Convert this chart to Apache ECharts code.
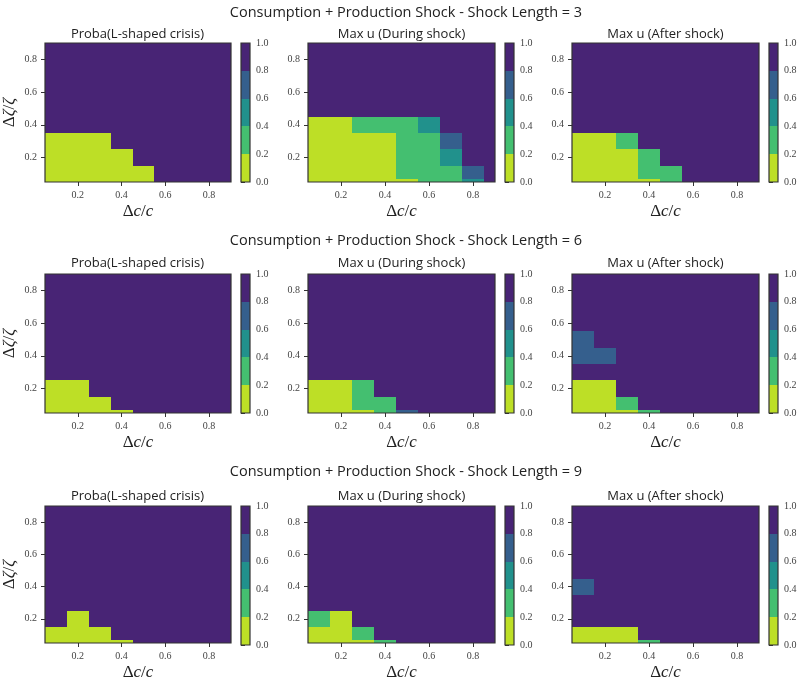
<!DOCTYPE html>
<html>
<head>
<meta charset="utf-8">
<script src="https://cdn.jsdelivr.net/npm/echarts@6/dist/echarts.min.js"></script>
<style>
html,body{margin:0;padding:0;background:#fff;}
#chart{width:800px;height:682px;}
</style>
</head>
<body>
<div id="chart"></div>
<script>
// ---------------- DATA ----------------
const suptitles = [
  'Consumption + Production Shock - Shock Length = 3',
  'Consumption + Production Shock - Shock Length = 6',
  'Consumption + Production Shock - Shock Length = 9'
];
const panelTitles = ['Proba(L-shaped crisis)', 'Max u (During shock)', 'Max u (After shock)'];

const xTicks = [0.2, 0.4, 0.6, 0.8];
const yTicks = [0.2, 0.4, 0.6, 0.8];
const cbarTicks = [0, 0.2, 0.4, 0.6, 0.8, 1.0];

// contour levels and their band colours (viridis_r)
const levels = [0, 0.2, 0.4, 0.6, 0.8, 1.0];
const bandColors = ['#bddf26', '#44bf70', '#21918c', '#355f8d', '#482475'];

// cell edges (data units): x columns, y rows (row 0 is the thin bottom strip)
const xEdges = [0.05, 0.15, 0.25, 0.35, 0.45, 0.55, 0.65, 0.75, 0.85, 0.9];
const yEdges = [0.05, 0.07, 0.15, 0.25, 0.35, 0.45, 0.55, 0.65, 0.75, 0.85, 0.9];

// values, rows listed bottom -> top (row 0 = strip 0.05-0.07)
const len3_proba = [
  [0,0,0,0,0,1,1,1,1],
  [0,0,0,0,0,1,1,1,1],
  [0,0,0,0,1,1,1,1,1],
  [0,0,0,1,1,1,1,1,1],
  [1,1,1,1,1,1,1,1,1],
  [1,1,1,1,1,1,1,1,1],
  [1,1,1,1,1,1,1,1,1],
  [1,1,1,1,1,1,1,1,1],
  [1,1,1,1,1,1,1,1,1],
  [1,1,1,1,1,1,1,1,1]
];
const len3_during = [
  [0,0,0,0,0,0.3,0.3,0.5,1],
  [0,0,0,0,0.3,0.3,0.3,0.7,1],
  [0,0,0,0,0.3,0.3,0.5,1,1],
  [0,0,0,0,0.3,0.3,0.7,1,1],
  [0,0,0.3,0.3,0.3,0.5,1,1,1],
  [1,1,1,1,1,1,1,1,1],
  [1,1,1,1,1,1,1,1,1],
  [1,1,1,1,1,1,1,1,1],
  [1,1,1,1,1,1,1,1,1],
  [1,1,1,1,1,1,1,1,1]
];
const len3_after = [
  [0,0,0,0,0.3,1,1,1,1],
  [0,0,0,0.3,0.3,1,1,1,1],
  [0,0,0,0.3,1,1,1,1,1],
  [0,0,0.3,1,1,1,1,1,1],
  [1,1,1,1,1,1,1,1,1],
  [1,1,1,1,1,1,1,1,1],
  [1,1,1,1,1,1,1,1,1],
  [1,1,1,1,1,1,1,1,1],
  [1,1,1,1,1,1,1,1,1],
  [1,1,1,1,1,1,1,1,1]
];
const len6_proba = [
  [0,0,0,0,1,1,1,1,1],
  [0,0,0,1,1,1,1,1,1],
  [0,0,1,1,1,1,1,1,1],
  [1,1,1,1,1,1,1,1,1],
  [1,1,1,1,1,1,1,1,1],
  [1,1,1,1,1,1,1,1,1],
  [1,1,1,1,1,1,1,1,1],
  [1,1,1,1,1,1,1,1,1],
  [1,1,1,1,1,1,1,1,1],
  [1,1,1,1,1,1,1,1,1]
];
const len6_during = [
  [0,0,0,0.3,0.7,1,1,1,1],
  [0,0,0.3,0.3,1,1,1,1,1],
  [0,0,0.3,1,1,1,1,1,1],
  [1,1,1,1,1,1,1,1,1],
  [1,1,1,1,1,1,1,1,1],
  [1,1,1,1,1,1,1,1,1],
  [1,1,1,1,1,1,1,1,1],
  [1,1,1,1,1,1,1,1,1],
  [1,1,1,1,1,1,1,1,1],
  [1,1,1,1,1,1,1,1,1]
];
const len6_after = [
  [0,0,0,0.3,1,1,1,1,1],
  [0,0,0.3,1,1,1,1,1,1],
  [0,0,1,1,1,1,1,1,1],
  [1,1,1,1,1,1,1,1,1],
  [0.7,0.7,1,1,1,1,1,1,1],
  [0.7,1,1,1,1,1,1,1,1],
  [1,1,1,1,1,1,1,1,1],
  [1,1,1,1,1,1,1,1,1],
  [1,1,1,1,1,1,1,1,1],
  [1,1,1,1,1,1,1,1,1]
];
const len9_proba = [
  [0,0,0,0,1,1,1,1,1],
  [0,0,0,1,1,1,1,1,1],
  [1,0,1,1,1,1,1,1,1],
  [1,1,1,1,1,1,1,1,1],
  [1,1,1,1,1,1,1,1,1],
  [1,1,1,1,1,1,1,1,1],
  [1,1,1,1,1,1,1,1,1],
  [1,1,1,1,1,1,1,1,1],
  [1,1,1,1,1,1,1,1,1],
  [1,1,1,1,1,1,1,1,1]
];
const len9_during = [
  [0,0,0,0.3,1,1,1,1,1],
  [0,0,0.3,1,1,1,1,1,1],
  [0.3,0,1,1,1,1,1,1,1],
  [1,1,1,1,1,1,1,1,1],
  [1,1,1,1,1,1,1,1,1],
  [1,1,1,1,1,1,1,1,1],
  [1,1,1,1,1,1,1,1,1],
  [1,1,1,1,1,1,1,1,1],
  [1,1,1,1,1,1,1,1,1],
  [1,1,1,1,1,1,1,1,1]
];
const len9_after = [
  [0,0,0,0.3,1,1,1,1,1],
  [0,0,0,1,1,1,1,1,1],
  [1,1,1,1,1,1,1,1,1],
  [1,1,1,1,1,1,1,1,1],
  [0.7,1,1,1,1,1,1,1,1],
  [1,1,1,1,1,1,1,1,1],
  [1,1,1,1,1,1,1,1,1],
  [1,1,1,1,1,1,1,1,1],
  [1,1,1,1,1,1,1,1,1],
  [1,1,1,1,1,1,1,1,1]
];
const panels = [
  [len3_proba, len3_during, len3_after],
  [len6_proba, len6_during, len6_after],
  [len9_proba, len9_during, len9_after]
];

// ---------------- LAYOUT / STYLE ----------------
const plotLeft = [44, 308, 572];
const plotTop = [43, 274, 506];
const plotW = 187, plotH = 139;
const cbGap = 197, cbW = 9;
const suptitleTop = [5, 233, 464];
const titleTop = [28, 257, 490];
const titleCenter = [137.5, 401.5, 665.5];
const spine = '#333333';
const serif = 'Liberation Serif';
const sans = 'Open Sans';

function colorFor(v) {
  for (let i = 0; i < bandColors.length; i++) {
    if (v >= levels[i] && (v < levels[i + 1] || i === bandColors.length - 1)) return bandColors[i];
  }
  return bandColors[bandColors.length - 1];
}
const fmt1 = v => Number(v).toFixed(1);

function rectFrom(api, a, b, col) {
  const x0 = Math.round(a[0]), x1 = Math.round(b[0]);
  const y0 = Math.round(a[1]), y1 = Math.round(b[1]);
  return {type: 'rect', shape: {x: x0, y: y1, width: x1 - x0, height: y0 - y1},
    style: {fill: col, lineWidth: 0}};
}

const grids = [], xAxes = [], yAxes = [], series = [], titles = [];

suptitles.forEach((t, r) => {
  titles.push({text: t, left: 406, top: suptitleTop[r], textAlign: 'center', padding: 0,
    textStyle: {fontFamily: sans, fontSize: 14.5, fontWeight: 'normal', color: '#222'}});
});

for (let r = 0; r < 3; r++) {
  for (let c = 0; c < 3; c++) {
    const gi = grids.length;
    titles.push({text: panelTitles[c], left: titleCenter[c], top: titleTop[r], textAlign: 'center', padding: 0,
      textStyle: {fontFamily: sans, fontSize: 13, fontWeight: 'normal', color: '#222'}});
    grids.push({left: plotLeft[c], top: plotTop[r], width: plotW, height: plotH,
      show: true, z: 10, backgroundColor: 'transparent', borderColor: spine, borderWidth: 1.2});
    xAxes.push({type: 'value', gridIndex: gi, min: 0.05, max: 0.9,
      axisLine: {show: false},
      axisTick: {show: true, length: 4, customValues: xTicks, lineStyle: {color: spine, width: 1}},
      axisLabel: {customValues: xTicks, formatter: fmt1, fontFamily: serif, fontSize: 10, color: '#444', margin: 8},
      splitLine: {show: false},
      name: '{d|Δ}{i|c}{d|/}{i|c}', nameLocation: 'middle', nameGap: 21,
      nameTextStyle: {rich: {
        d: {fontFamily: serif, fontSize: 17, color: '#222'},
        i: {fontFamily: serif, fontStyle: 'italic', fontSize: 17, color: '#222'}}}
    });
    const ya = {type: 'value', gridIndex: gi, min: 0.05, max: 0.9,
      axisLine: {show: false},
      axisTick: {show: true, length: 4, customValues: yTicks, lineStyle: {color: spine, width: 1}},
      axisLabel: {customValues: yTicks, formatter: fmt1, fontFamily: serif, fontSize: 10, color: '#444', margin: 8},
      splitLine: {show: false}};
    if (c === 0) {
      ya.name = '{d|Δ}{i|ζ}{d|/}{i|ζ}';
      ya.nameLocation = 'middle';
      ya.nameGap = 27;
      ya.nameTextStyle = {rich: {
        d: {fontFamily: serif, fontSize: 17, color: '#222'},
        i: {fontFamily: serif, fontStyle: 'italic', fontSize: 17, color: '#222'}}};
    }
    yAxes.push(ya);

    const grid = panels[r][c];
    const data = [];
    for (let yi = 0; yi < grid.length; yi++) {
      for (let xi = 0; xi < grid[yi].length; xi++) {
        data.push([xEdges[xi], xEdges[xi + 1], yEdges[yi], yEdges[yi + 1], grid[yi][xi]]);
      }
    }
    series.push({type: 'custom', xAxisIndex: gi, yAxisIndex: gi, clip: true, silent: true,
      encode: {x: [0, 1], y: [2, 3]}, data: data,
      renderItem: function (params, api) {
        const p0 = api.coord([api.value(0), api.value(2)]);
        const p1 = api.coord([api.value(1), api.value(3)]);
        return rectFrom(api, p0, p1, colorFor(api.value(4)));
      }});
  }
}

// colorbars
for (let r = 0; r < 3; r++) {
  for (let c = 0; c < 3; c++) {
    const gi = grids.length;
    grids.push({left: plotLeft[c] + cbGap, top: plotTop[r], width: cbW, height: plotH,
      show: true, z: 10, backgroundColor: 'transparent', borderColor: spine, borderWidth: 1.2});
    xAxes.push({type: 'value', gridIndex: gi, min: 0, max: 1, show: false});
    yAxes.push({type: 'value', gridIndex: gi, min: 0, max: 1, position: 'right',
      axisLine: {show: false},
      axisTick: {show: true, length: 4, customValues: cbarTicks, lineStyle: {color: spine, width: 1}},
      axisLabel: {customValues: cbarTicks, formatter: fmt1, fontFamily: serif, fontSize: 10, color: '#444', margin: 6},
      splitLine: {show: false}});
    const bands = [];
    for (let i = 0; i < bandColors.length; i++) bands.push([levels[i], levels[i + 1], i]);
    series.push({type: 'custom', xAxisIndex: gi, yAxisIndex: gi, clip: true, silent: true,
      encode: {y: [0, 1]}, data: bands,
      renderItem: function (params, api) {
        const p0 = api.coord([0, api.value(0)]);
        const p1 = api.coord([1, api.value(1)]);
        return rectFrom(api, p0, p1, bandColors[api.value(2)]);
      }});
  }
}

const chart = echarts.init(document.getElementById('chart'), null, {renderer: 'canvas'});
chart.setOption({
  animation: false,
  backgroundColor: '#ffffff',
  title: titles,
  grid: grids,
  xAxis: xAxes,
  yAxis: yAxes,
  series: series
});
</script>
</body>
</html>
